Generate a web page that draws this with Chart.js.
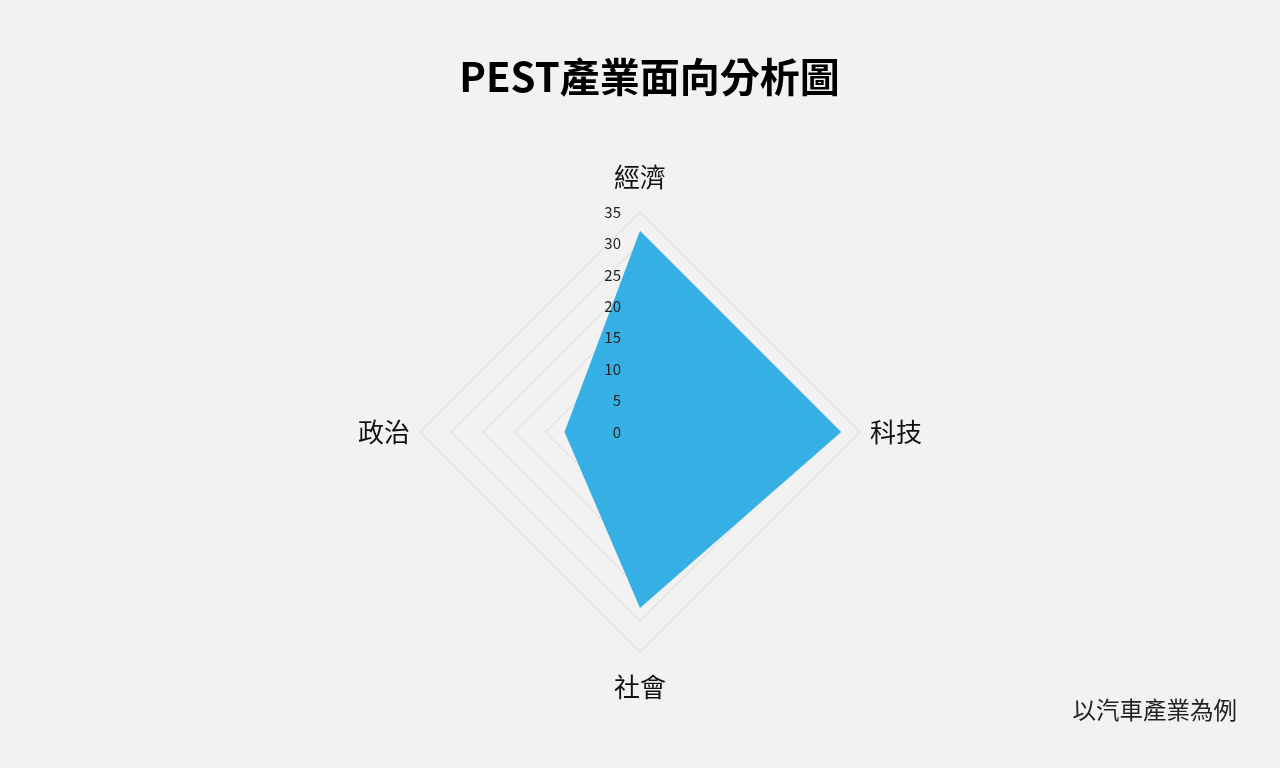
<!DOCTYPE html>
<html><head><meta charset="utf-8">
<script src="https://cdn.jsdelivr.net/npm/chart.js@4.4.0/dist/chart.umd.min.js"></script>
<style>html,body{margin:0;padding:0;background:#f2f2f2;}#wrap{width:1280px;height:768px;position:relative;}</style>
</head><body><div id="wrap"><canvas id="c" width="1280" height="768"></canvas></div>
<script>
const categories = ['經濟', '科技', '社會', '政治'];
const values = [32, 32, 28, 12];
const tickValues = [0, 5, 10, 15, 20, 25, 30, 35];
const titleText = 'PEST產業面向分析圖';
const noteText = '以汽車產業為例';
const FONT = '"Noto Sans CJK TC","Noto Sans CJK SC",sans-serif';

const shadowPlugin = {
  id: 'shadow',
  beforeDatasetDraw(chart) {
    const ctx = chart.ctx; ctx.save();
    ctx.shadowColor = 'rgba(60,80,200,0.8)';
    ctx.shadowBlur = 5; ctx.shadowOffsetX = 3; ctx.shadowOffsetY = 3;
  },
  afterDatasetDraw(chart) { chart.ctx.restore(); }
};
const textPlugin = {
  id: 'texts',
  afterDraw(chart) {
    const s = chart.scales.r, ctx = chart.ctx;
    ctx.save();
    ctx.font = '15px ' + FONT; ctx.fillStyle = '#222';
    ctx.textAlign = 'right'; ctx.textBaseline = 'middle';
    tickValues.forEach(v => {
      const d = s.getDistanceFromCenterForValue(v);
      ctx.fillText(String(v), s.xCenter - 19, s.yCenter - d);
    });
    ctx.font = '23.5px ' + FONT; ctx.fillStyle = '#222';
    ctx.fillText(noteText, 1237, 710);
    ctx.font = 'bold 40px ' + FONT; ctx.fillStyle = '#000';
    ctx.textAlign = 'center';
    ctx.fillText(titleText, 649.5, 77);
    ctx.restore();
  }
};

new Chart(document.getElementById('c'), {
  type: 'radar',
  data: { labels: categories, datasets: [{ data: values, backgroundColor: 'rgb(54,176,228)', borderWidth: 0, pointRadius: 0, fill: true }] },
  options: {
    responsive: false, animation: false,
    layout: { padding: { top: 152, bottom: 56, left: 0, right: 0 } },
    plugins: {
      legend: { display: false }, tooltip: { enabled: false }, title: { display: false }
    },
    scales: { r: {
      min: 0, max: 35,
      ticks: { stepSize: 5, display: false },
      grid: { color: '#d9d9d9', lineWidth: 1 },
      angleLines: { display: false },
      pointLabels: { color: '#111', font: { family: FONT, size: 26, lineHeight: 1.92 }, padding: 10 }
    } }
  },
  plugins: [shadowPlugin, textPlugin]
});
</script></body></html>
